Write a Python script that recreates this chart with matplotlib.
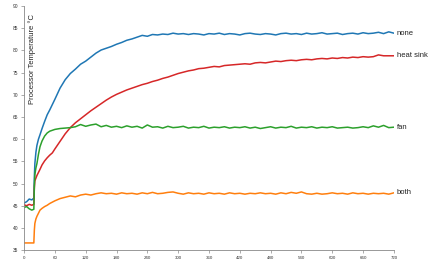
import matplotlib
matplotlib.use("Agg")
import matplotlib.pyplot as plt

plt.rcParams['font.family'] = ['Liberation Sans', 'DejaVu Sans']

# sample times in seconds (denser around the start-up jump)
time = [0, 5, 10, 15, 19, 20, 21, 23, 25, 28, 31, 35, 40, 45, 50, 55] + list(range(60, 721, 10))

none = [45.6, 45.9, 46.5, 46.3, 46.7, 51.5, 54.5, 57.0, 58.6, 60.0, 61.0, 62.4, 64.0, 65.5, 66.6, 67.8,
        69.0, 71.5, 73.4, 74.8, 75.8, 76.9, 77.6, 78.5, 79.4, 80.1, 80.5, 80.9, 81.4, 81.8, 82.3, 82.6,
        83.0, 83.4, 83.2, 83.6, 83.5, 83.7, 83.6, 83.9, 83.7, 83.8, 83.6, 83.8, 83.7, 83.5, 83.8, 83.7,
        83.9, 83.6, 83.8, 83.7, 83.5, 83.8, 83.9, 83.7, 83.6, 83.8, 83.7, 83.5, 83.8, 83.9, 83.7, 83.8,
        83.6, 83.9, 83.7, 83.8, 84.0, 83.7, 83.8, 83.9, 83.6, 83.8, 83.9, 83.7, 84.0, 83.8, 83.9, 84.1,
        83.8, 84.2, 83.9]

heat_sink = [45.2, 45.0, 45.3, 45.1, 45.3, 49.0, 50.6, 51.2, 51.8, 52.5, 53.2, 54.2, 55.1, 55.8, 56.4, 56.9,
             57.8, 59.5, 61.2, 62.6, 63.7, 64.6, 65.5, 66.4, 67.2, 68.0, 68.8, 69.5, 70.1, 70.6, 71.1, 71.5,
             71.9, 72.3, 72.6, 73.0, 73.3, 73.7, 74.0, 74.4, 74.8, 75.1, 75.4, 75.6, 75.9, 76.0, 76.2, 76.4,
             76.3, 76.6, 76.7, 76.8, 76.9, 77.0, 76.9, 77.2, 77.3, 77.2, 77.4, 77.6, 77.5, 77.7, 77.8, 77.7,
             77.9, 78.0, 77.9, 78.1, 78.2, 78.1, 78.3, 78.2, 78.4, 78.3, 78.5, 78.4, 78.6, 78.5, 78.6, 79.0,
             78.8, 78.8, 78.8]

fan = [44.6, 44.8, 44.3, 44.0, 44.2, 49.5, 52.0, 53.5, 54.5, 56.6, 58.3, 59.6, 60.7, 61.4, 61.8, 62.0,
       62.2, 62.4, 62.5, 62.6, 62.8, 63.3, 62.9, 63.2, 63.4, 62.8, 63.1, 62.7, 62.9, 62.6, 63.0, 62.7,
       62.9, 62.5, 63.2, 62.7, 62.8, 62.5, 62.9, 62.6, 62.7, 62.9, 62.5, 62.7, 62.6, 62.9, 62.5, 62.7,
       62.6, 62.8, 62.5, 62.7, 62.6, 62.8, 62.5, 62.7, 62.4, 62.6, 62.8, 62.5, 62.7, 62.6, 62.9, 62.5,
       62.7, 62.6, 62.8, 62.5, 62.7, 62.6, 62.8, 62.5, 62.6, 62.7, 62.5, 62.6, 62.8, 62.6, 63.0, 62.7,
       63.1, 62.6, 62.7]

both = [36.6, 36.6, 36.6, 36.6, 36.6, 39.5, 41.0, 42.0, 42.6, 43.3, 44.0, 44.4, 44.8, 45.1, 45.5, 45.8,
        46.1, 46.6, 46.9, 47.2, 47.0, 47.4, 47.6, 47.4, 47.7, 47.9, 47.7, 47.8, 47.6, 47.9, 47.7, 47.8,
        47.6, 47.9, 47.7, 48.0, 47.7, 47.8, 48.0, 48.1, 47.8, 47.6, 47.9, 47.7, 47.8, 47.6, 47.9, 47.7,
        47.8, 47.6, 47.9, 47.7, 47.8, 47.6, 47.8, 47.7, 47.9, 47.7, 47.8, 47.6, 47.9, 47.7, 48.0, 47.8,
        48.1, 47.7, 47.6, 47.8, 47.6, 47.7, 47.9, 47.7, 47.8, 47.6, 47.9, 47.7, 47.8, 47.6, 47.8, 47.7,
        47.8, 47.6, 47.9]

series = [("none", none, "#1f77b4"),
          ("heat sink", heat_sink, "#d62728"),
          ("fan", fan, "#2ca02c"),
          ("both", both, "#ff7f0e")]

fig = plt.figure(figsize=(4.3, 2.66), dpi=100)
ax = fig.add_axes([0.056, 0.06, 0.860, 0.917])

for name, values, color in series:
    ax.plot(time, values, color=color, linewidth=1.1)
    ax.annotate(name, xy=(time[-1], values[-1]), xytext=(2, 0), textcoords="offset points",
                va="center", ha="left", fontsize=5.5, color="#222222")

ax.set_xlim(0, 720)
ax.set_ylim(35, 90)
ax.set_xticks(range(0, 721, 60))
ax.set_yticks(range(35, 91, 5))

for side in ["top", "right"]:
    ax.spines[side].set_visible(False)
for side in ["left", "bottom"]:
    ax.spines[side].set_color("#888888")
    ax.spines[side].set_linewidth(0.6)
ax.tick_params(axis="x", labelsize=3.2, length=2.5, width=0.5, color="#888888", labelcolor="#333333", pad=1.5)
ax.tick_params(axis="y", labelsize=3.5, length=2.5, width=0.5, color="#888888", labelcolor="#333333", pad=1.5)

ax.text(0.022, 88.3, "Processor Temperature °C", transform=ax.get_yaxis_transform(),
        rotation=90, ha="center", va="top", fontsize=5.5, color="#222222")

fig.savefig("out.png", dpi=100)
